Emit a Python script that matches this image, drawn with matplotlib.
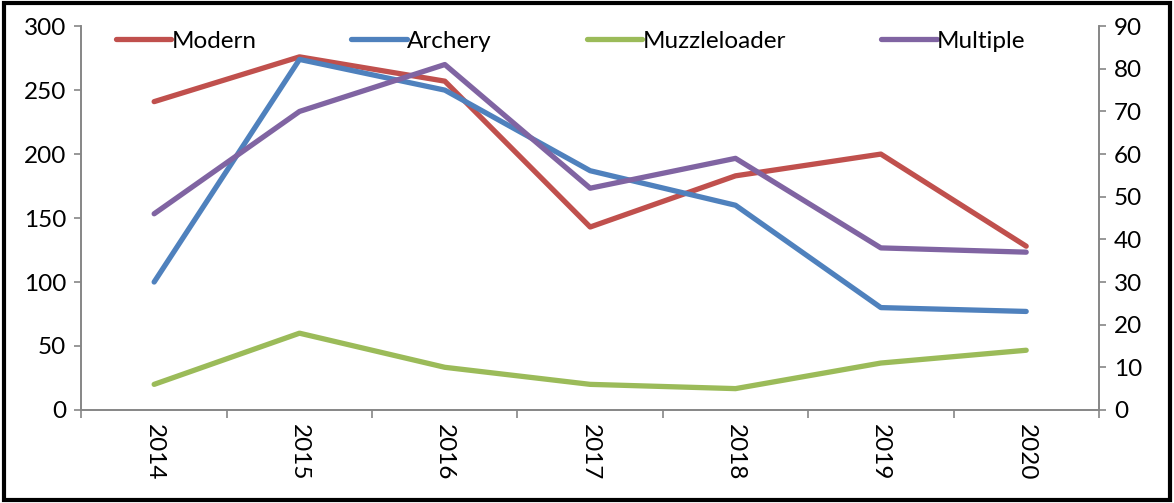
import matplotlib.pyplot as plt
from matplotlib.patches import Rectangle
from matplotlib.ticker import MultipleLocator, FixedLocator

plt.rcParams['font.family'] = ['Lato', 'DejaVu Sans']

years = ['2014', '2015', '2016', '2017', '2018', '2019', '2020']
modern = [241, 276, 257, 143, 183, 200, 128]
archery = [100, 274, 250, 187, 160, 80, 77]
# these two are on the right-hand axis
muzzleloader = [6, 18, 10, 6, 5, 11, 14]
multiple = [46, 70, 81, 52, 59, 38, 37]

x = list(range(len(years)))
grey = '#868686'
fs = 17.5

fig = plt.figure(figsize=(11.74, 5.03), dpi=100)
ax = fig.add_axes([0.0694, 0.185, 0.8666, 0.763])
ax2 = ax.twinx()

l1, = ax.plot(x, modern, color='#C0504D', lw=3.8, label='Modern', solid_capstyle='round')
l2, = ax.plot(x, archery, color='#4F81BD', lw=3.8, label='Archery', solid_capstyle='round')
l3, = ax2.plot(x, muzzleloader, color='#9BBB59', lw=3.8, label='Muzzleloader', solid_capstyle='round')
l4, = ax2.plot(x, multiple, color='#8064A2', lw=3.8, label='Multiple', solid_capstyle='round')

ax.set_xlim(-0.5, len(years) - 0.5)
ax.set_ylim(0, 300)
ax2.set_ylim(0, 90)
ax.yaxis.set_major_locator(MultipleLocator(50))
ax2.yaxis.set_major_locator(MultipleLocator(10))

ax.set_xticks(x)
ax.set_xticklabels(years, rotation=-90)
ax.xaxis.set_minor_locator(FixedLocator([i - 0.5 for i in range(len(years) + 1)]))
ax.tick_params(axis='x', which='major', length=0, labelsize=fs, pad=10)
ax.tick_params(axis='x', which='minor', length=6, color=grey, width=1.2, direction='out')
ax.tick_params(axis='y', length=5, color=grey, width=1.2, labelsize=fs, pad=6)
ax2.tick_params(axis='y', length=5, color=grey, width=1.2, labelsize=fs, pad=6)

for a in (ax, ax2):
    a.spines['top'].set_visible(False)
    for s in ('left', 'right', 'bottom'):
        a.spines[s].set_color(grey)
        a.spines[s].set_linewidth(1.2)

ax.legend(handles=[l1, l2, l3, l4], loc='upper left', bbox_to_anchor=(0.012, 1.045),
          ncol=4, frameon=False, fontsize=fs, handlelength=2.3, handletextpad=0.0,
          columnspacing=3.9)

fig.patches.append(Rectangle((0.003, 0.005), 0.994, 0.99, transform=fig.transFigure,
                             fill=False, edgecolor='black', linewidth=3))

plt.savefig('out.png', dpi=100)
